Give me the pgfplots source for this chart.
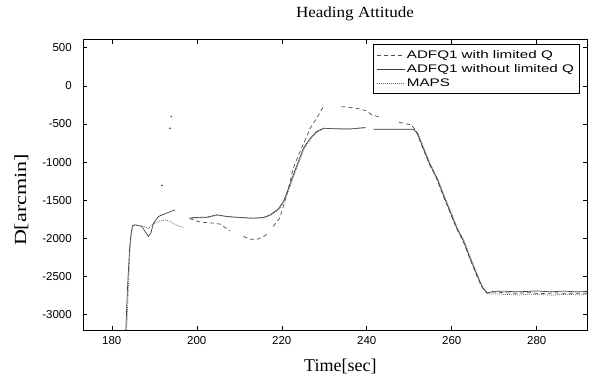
\documentclass[border=0pt]{standalone}
\usepackage{pgfplots}
\pgfplotsset{compat=1.18}
\usepackage{pgfplotstable}
\usepackage{fontspec}
\setmainfont{Liberation Serif}
\setsansfont{Liberation Sans}
\newfontfamily\titlefont[FakeStretch=1.1]{Liberation Serif}
\newfontfamily\ylabfont[FakeStretch=1.3]{Liberation Serif}
\newfontfamily\legfont[FakeStretch=1.38]{Liberation Sans}

\pgfplotstableread{
t v
183.3 -3200
183.7 -2650
184.2 -2127
184.5 -1952
184.9 -1830
185.5 -1821
187.1 -1843
188.6 -1974
189.2 -1930
189.8 -1799
191.0 -1712
192.9 -1668
194.9 -1625
196.0 nan
198.3 -1734
199.6 -1725
202.4 -1721
204.7 -1690
207.1 -1712
210.2 -1725
213.3 -1734
215.7 -1725
217.3 -1690
219.2 -1612
220.4 -1516
221.6 -1341
222.7 -1167
223.9 -992
225.1 -818
226.7 -687
228.2 -599
229.8 -556
233.7 -565
236.1 -565
239.6 -547
240.5 nan
241.6 -569
247.1 -569
251.0 -569
251.9 -621
253.3 -818
254.9 -1036
256.5 -1210
258.0 -1428
259.6 -1647
261.2 -1865
262.8 -2039
264.3 -2257
265.9 -2476
267.1 -2628
268.3 -2716
269.8 -2694
272.2 -2690
275.3 -2700
277.6 -2695
280.0 -2688
283.1 -2700
286.3 -2690
289.4 -2700
291.9 -2695
}\without

\pgfplotstableread{
t v
183.5 -3200
183.9 -2650
184.3 -2127
184.6 -1952
185.0 -1830
185.5 -1825
187.5 -1840
188.6 -1870
189.5 -1820
191.0 -1777
192.5 -1756
193.5 -1770
195.3 -1830
196.9 -1856
197.5 nan
198.4 -1740
199.8 -1730
202.6 -1725
204.9 -1695
207.3 -1716
210.4 -1730
213.5 -1738
215.9 -1728
217.5 -1694
219.4 -1618
220.6 -1520
221.8 -1345
222.9 -1170
224.1 -995
225.3 -822
226.9 -690
228.4 -602
230.0 -560
233.9 -560
236.3 -562
239.8 -550
240.6 nan
241.8 -572
247.3 -572
251.2 -572
252.1 -625
253.5 -822
255.1 -1040
256.7 -1214
258.2 -1432
259.8 -1651
261.4 -1869
263.0 -2043
264.5 -2261
266.1 -2480
267.3 -2640
268.6 -2730
270.5 -2725
273.0 -2735
276.0 -2740
278.5 -2730
281.0 -2738
284.0 -2742
287.0 -2732
290.0 -2740
291.9 -2735
}\maps

\pgfplotstableread{
t v
198.3 -1740
200.8 -1786
203.9 -1799
205.5 -1812
207.8 -1900
209.0 nan
211.0 -1974
212.5 -2009
214.1 -2013
215.7 -1978
216.9 -1930
217.4 nan
218.0 -1843
219.5 -1734
220.5 -1560
221.6 -1340
222.7 -1079
224.0 -900
225.0 -774
226.7 -556
228.2 -425
229.8 -272
231.5 nan
234.1 -272
237.6 -294
240.0 -329
241.2 -381
243.5 -416
245.5 nan
247.6 -477
250.5 -512
251.5 -578
253.2 -818
254.8 -1036
256.4 -1210
257.9 -1428
259.5 -1647
261.1 -1865
262.7 -2039
264.2 -2257
265.8 -2476
267.0 -2628
268.2 -2716
270.0 -2700
272.5 -2712
275.0 -2718
278.0 -2710
281.0 -2722
284.0 -2715
287.0 -2720
291.9 -2718
}\withq

\pgfplotstableread{
t v
191.8 -1306
193.7 -556
194.0 -403
}\dots

\begin{document}
\begin{tikzpicture}
\path[use as bounding box] (-83.3bp,-44bp) rectangle (511.7bp,330bp);
\begin{axis}[
  at={(0,0)}, anchor=south west,
  scale only axis, width=504bp, height=290.3bp,
  xmin=173.3, xmax=291.9, ymin=-3200, ymax=605,
  xtick={180,200,...,280},
  ytick={-3000,-2500,...,500},
  tick align=inside,
  major tick length=4bp,
  axis line style={black, line width=0.6bp},
  tick style={black, line width=0.5bp},
  /pgf/number format/assume math mode=true,
  /pgf/number format/1000 sep={},
  ticklabel style={font=\sffamily\fontsize{11.5bp}{13bp}\selectfont},
  yticklabel style={xshift=-8bp},
  xticklabel style={yshift=-3bp},
  unbounded coords=jump,
  title={Heading Attitude},
  title style={at={(axis description cs:0.539,1)}, anchor=base, yshift=16.4bp, inner sep=0pt, font=\titlefont\fontsize{15.5bp}{17bp}\selectfont},
  xlabel={Time[sec]},
  xlabel style={at={(axis description cs:0.51,0)}, anchor=base, yshift=-41bp, inner sep=0pt, font=\fontsize{18bp}{20bp}\selectfont},
  ylabel={D[arcmin]},
  ylabel style={at={(axis description cs:-0.123,0.448)}, anchor=center, rotate=0, inner sep=0pt, font=\ylabfont\fontsize{17bp}{19bp}\selectfont},
  legend style={at={(axis description cs:0.984,0.984)}, anchor=north east, draw=black, line width=0.6bp, fill=white,
    inner xsep=3bp, inner ysep=4bp, row sep=0.5bp,
    nodes={inner sep=2bp, font=\legfont\fontsize{11bp}{12bp}\selectfont}},
  legend cell align=left,
  legend image code/.code={\draw[#1] (0bp,0bp) -- (28bp,0bp);},
]
\addplot[black!70, line width=0.7bp, dash pattern=on 4bp off 3bp] table[x=t,y=v] {\withq};
\addlegendentry{ADFQ1 with limited Q}
\addplot[black!75, line width=0.7bp] table[x=t,y=v] {\without};
\addlegendentry{ADFQ1 without limited Q}
\addplot[black!60, line width=0.7bp, dash pattern=on 1bp off 1bp] table[x=t,y=v] {\maps};
\addlegendentry{MAPS}
\addplot[only marks, mark=*, mark size=0.6bp, black!70, forget plot] table[x=t,y=v] {\dots};
\end{axis}
\end{tikzpicture}
\end{document}
